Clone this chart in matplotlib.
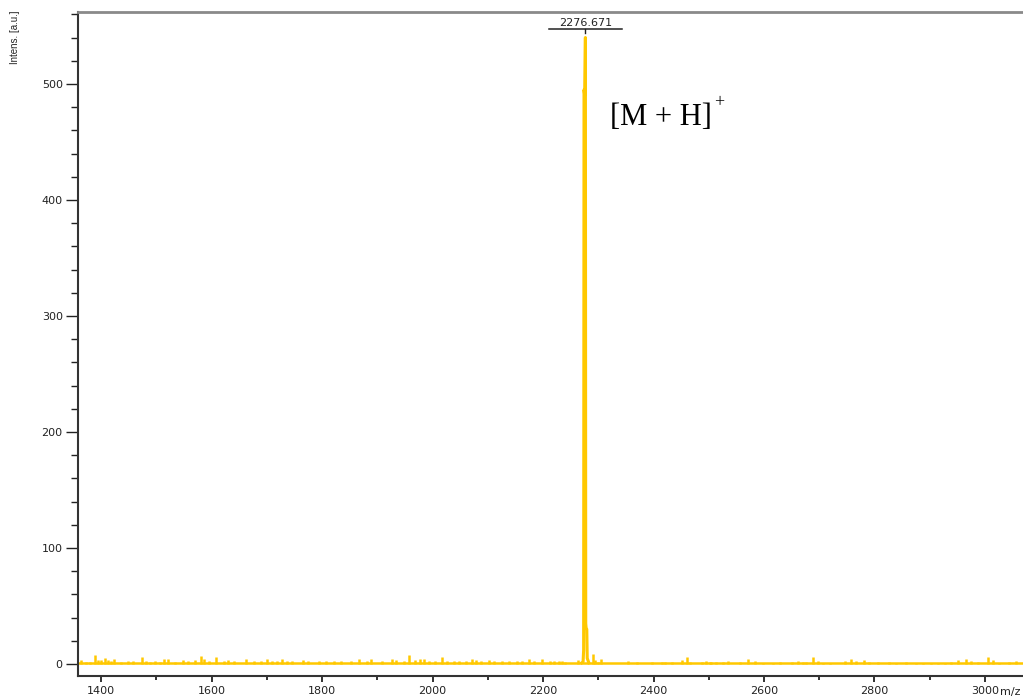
import numpy as np
import matplotlib
matplotlib.use("Agg")
import matplotlib.pyplot as plt
from matplotlib.ticker import MultipleLocator

# --- data ---
PEAK_MZ = 2276.671
PEAK_LABEL = "2276.671"
ION_LABEL = "[M + H]"

# molecular ion profile (m/z, intensity)
peak_mz = [2270.0, 2272.5, 2273.5, 2274.2, 2275.5, 2276.671, 2277.3, 2278.0, 2279.2, 2280.0, 2283.0]
peak_int = [1.0, 2.0, 12.0, 495.0, 490.0, 540.0, 35.0, 31.0, 30.0, 5.0, 1.0]

# baseline noise spikes
noise_mz = [1363, 1373, 1379, 1389, 1395, 1400, 1406, 1413, 1418, 1424, 1435, 1448, 1457,
            1473, 1482, 1488, 1498, 1506, 1514, 1521, 1533, 1548, 1557, 1569, 1581, 1587,
            1596, 1608, 1623, 1629, 1641, 1662, 1677, 1689, 1701, 1710, 1719, 1728, 1737,
            1746, 1765, 1774, 1795, 1807, 1822, 1834, 1852, 1867, 1882, 1888, 1909, 1927,
            1933, 1948, 1957, 1969, 1978, 1984, 1993, 2005, 2017, 2026, 2039, 2048, 2060,
            2072, 2078, 2087, 2102, 2111, 2126, 2138, 2153, 2162, 2174, 2183, 2198, 2213,
            2219, 2228, 2234, 2240, 2263, 2291, 2294, 2300, 2305, 2353, 2370, 2397, 2415,
            2421, 2433, 2451, 2460, 2466, 2487, 2495, 2502, 2505, 2514, 2526, 2535, 2556,
            2571, 2583, 2598, 2617, 2629, 2650, 2662, 2671, 2677, 2689, 2698, 2707, 2719,
            2746, 2758, 2767, 2782, 2791, 2806, 2827, 2839, 2857, 2875, 2888, 2903, 2915,
            2927, 2939, 2951, 2966, 2975, 2987, 3005, 3014, 3026, 3044, 3056]
noise_int = [3.5, 1.8, 2.0, 8.0, 3.5, 3.5, 5.5, 3.5, 3.0, 4.5, 1.8, 2.8, 2.2,
             5.7, 2.3, 1.8, 2.3, 2.0, 4.0, 4.0, 1.8, 3.5, 2.2, 3.5, 6.6, 4.5,
             2.3, 5.7, 2.3, 3.5, 2.8, 4.6, 2.3, 2.3, 4.6, 2.9, 2.3, 4.0, 2.9,
             2.3, 3.4, 2.9, 2.3, 2.3, 2.3, 2.3, 2.3, 4.0, 2.9, 4.0, 2.9, 4.6,
             3.4, 2.9, 7.5, 3.4, 4.0, 4.0, 2.3, 2.9, 5.7, 2.3, 2.3, 2.3, 2.3,
             4.0, 3.4, 2.3, 3.4, 2.3, 2.3, 2.9, 2.3, 2.3, 4.0, 2.3, 4.0, 2.3,
             2.3, 2.3, 2.3, 1.7, 3.7, 8.6, 3.7, 1.7, 4.3, 2.3, 1.7, 2.0, 1.7,
             2.0, 1.7, 3.7, 5.7, 2.0, 2.0, 2.3, 1.7, 1.7, 1.7, 1.7, 2.3, 1.7,
             4.0, 2.3, 1.2, 1.2, 1.7, 1.7, 2.3, 1.7, 1.7, 5.7, 2.3, 1.2, 1.2,
             2.3, 4.6, 2.3, 3.4, 1.7, 1.7, 1.7, 1.2, 1.7, 1.2, 1.2, 1.2, 1.2,
             1.2, 1.7, 3.4, 4.0, 2.3, 1.7, 6.3, 3.4, 1.2, 1.7, 2.3]
BASELINE = 1.0

X_MIN, X_MAX = 1358, 3069
Y_MIN, Y_MAX = -10.3, 562

COL = "#ffc800"
INK = "#222222"

fig = plt.figure(figsize=(10.23, 6.98), dpi=100)
ax = fig.add_axes([78 / 1023, 1 - 676 / 698, 1 - 78 / 1023, (676 - 12) / 698])

ax.plot([X_MIN, X_MAX], [BASELINE, BASELINE], color=COL, lw=1.8, zorder=2)
ax.vlines(noise_mz, 0, noise_int, color=COL, lw=1.8, zorder=2)
ax.plot(peak_mz, peak_int, color=COL, lw=2.2, zorder=3)

ax.set_xlim(X_MIN, X_MAX)
ax.set_ylim(Y_MIN, Y_MAX)

ax.xaxis.set_major_locator(MultipleLocator(200))
ax.xaxis.set_minor_locator(MultipleLocator(100))
ax.yaxis.set_major_locator(MultipleLocator(100))
ax.yaxis.set_minor_locator(MultipleLocator(20))
ax.tick_params(axis="x", which="major", length=4, width=1.3, pad=3, labelsize=8, colors=INK)
ax.tick_params(axis="x", which="minor", length=3, width=1.3, colors=INK)
ax.tick_params(axis="y", which="major", length=9, width=1, pad=2, labelsize=8, colors=INK)
ax.tick_params(axis="y", which="minor", length=5, width=1, colors=INK)

for s in ("left", "bottom"):
    ax.spines[s].set_color("#333333")
    ax.spines[s].set_linewidth(1.5)
ax.spines["top"].set_color("#8a8a8a")
ax.spines["top"].set_linewidth(2)
ax.spines["right"].set_visible(False)

# peak label with underline
peak_top = max(peak_int)
line_y = peak_top + 7.5
ax.annotate(PEAK_LABEL, xy=(PEAK_MZ, line_y), xytext=(0, 0.5), textcoords="offset points",
            ha="center", va="bottom", fontsize=8, color=INK)
half = 36.5 / 0.5525  # underline half-width in m/z
ax.plot([PEAK_MZ - half, PEAK_MZ + half], [line_y, line_y], color=INK, lw=1.1, clip_on=False)
ax.plot([PEAK_MZ, PEAK_MZ], [line_y, peak_top + 4.0], color=INK, lw=1, clip_on=False)

# ion annotation
ion = ax.text(2321, 465, ION_LABEL, fontsize=22, family="Liberation Serif", va="baseline", ha="left")
ax.annotate("+", xy=(1, 1), xycoords=ion, xytext=(1.5, 0), textcoords="offset points",
            fontsize=13, family="Liberation Serif", ha="left", va="center")

fig.text(15 / 1023, 1 - 10 / 698, "Intens. [a.u.]", rotation=90, ha="center", va="top",
         fontsize=7, family="Liberation Sans", color=INK)
fig.text(1010 / 1023, 1 - 692 / 698, "m/z", ha="center", va="center", fontsize=8, color=INK)

fig.savefig("out.png", dpi=100)
